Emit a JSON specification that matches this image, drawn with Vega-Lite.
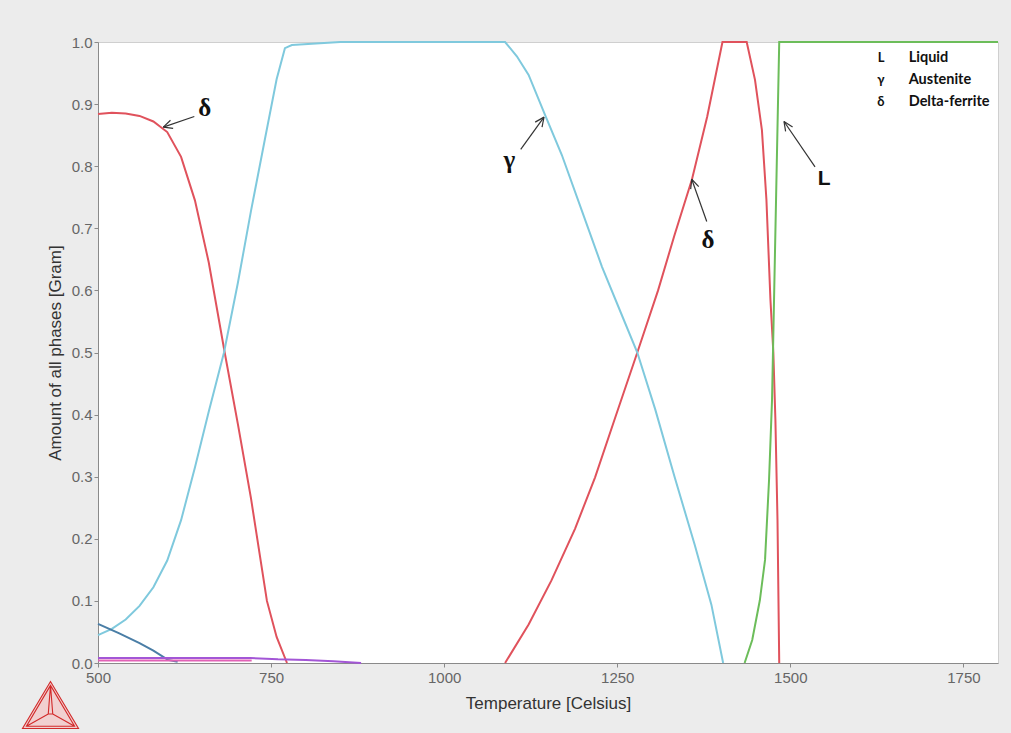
{
  "$schema": "https://vega.github.io/schema/vega-lite/v6.json",
  "width": 900,
  "height": 621,
  "autosize": {"type": "none"},
  "padding": {"left": 98, "top": 42, "right": 13, "bottom": 70},
  "background": "#ececec",
  "config": {
    "view": {"fill": "white", "stroke": "#cfcfcf"},
    "axis": {
      "grid": false,
      "domainColor": "#8a8a8a",
      "tickColor": "#8a8a8a",
      "tickSize": 4,
      "labelFont": "Liberation Sans",
      "labelFontSize": 15,
      "labelColor": "#666666",
      "titleFont": "Liberation Sans",
      "titleFontSize": 17,
      "titleFontWeight": "normal",
      "titleColor": "#333333"
    }
  },
  "datasets": {
    "curves": [
      {"phase": "delta", "seg": "d1", "T": 500, "v": 0.884},
      {"phase": "delta", "seg": "d1", "T": 520, "v": 0.886},
      {"phase": "delta", "seg": "d1", "T": 540, "v": 0.885},
      {"phase": "delta", "seg": "d1", "T": 560, "v": 0.881},
      {"phase": "delta", "seg": "d1", "T": 580, "v": 0.872},
      {"phase": "delta", "seg": "d1", "T": 600, "v": 0.855},
      {"phase": "delta", "seg": "d1", "T": 620, "v": 0.815},
      {"phase": "delta", "seg": "d1", "T": 640, "v": 0.745},
      {"phase": "delta", "seg": "d1", "T": 660, "v": 0.645},
      {"phase": "delta", "seg": "d1", "T": 683, "v": 0.5},
      {"phase": "delta", "seg": "d1", "T": 702, "v": 0.385},
      {"phase": "delta", "seg": "d1", "T": 721, "v": 0.265},
      {"phase": "delta", "seg": "d1", "T": 744, "v": 0.1},
      {"phase": "delta", "seg": "d1", "T": 758, "v": 0.042},
      {"phase": "delta", "seg": "d1", "T": 773, "v": 0.0},
      {"phase": "delta", "seg": "d2", "T": 1088, "v": 0.0},
      {"phase": "delta", "seg": "d2", "T": 1122, "v": 0.062},
      {"phase": "delta", "seg": "d2", "T": 1155, "v": 0.133},
      {"phase": "delta", "seg": "d2", "T": 1189, "v": 0.216},
      {"phase": "delta", "seg": "d2", "T": 1218, "v": 0.299},
      {"phase": "delta", "seg": "d2", "T": 1247, "v": 0.395},
      {"phase": "delta", "seg": "d2", "T": 1279, "v": 0.5},
      {"phase": "delta", "seg": "d2", "T": 1309, "v": 0.6},
      {"phase": "delta", "seg": "d2", "T": 1333, "v": 0.69},
      {"phase": "delta", "seg": "d2", "T": 1358, "v": 0.779},
      {"phase": "delta", "seg": "d2", "T": 1380, "v": 0.88},
      {"phase": "delta", "seg": "d2", "T": 1402, "v": 1.0},
      {"phase": "delta", "seg": "d2", "T": 1437, "v": 1.0},
      {"phase": "delta", "seg": "d2", "T": 1449, "v": 0.939},
      {"phase": "delta", "seg": "d2", "T": 1459, "v": 0.858},
      {"phase": "delta", "seg": "d2", "T": 1465.5, "v": 0.746},
      {"phase": "delta", "seg": "d2", "T": 1471.3, "v": 0.585},
      {"phase": "delta", "seg": "d2", "T": 1475.5, "v": 0.5},
      {"phase": "delta", "seg": "d2", "T": 1478.5, "v": 0.39},
      {"phase": "delta", "seg": "d2", "T": 1481.5, "v": 0.23},
      {"phase": "delta", "seg": "d2", "T": 1484, "v": 0.0},
      {"phase": "gamma", "seg": "g1", "T": 500, "v": 0.045},
      {"phase": "gamma", "seg": "g1", "T": 520, "v": 0.055},
      {"phase": "gamma", "seg": "g1", "T": 540, "v": 0.07},
      {"phase": "gamma", "seg": "g1", "T": 560, "v": 0.092},
      {"phase": "gamma", "seg": "g1", "T": 580, "v": 0.122},
      {"phase": "gamma", "seg": "g1", "T": 600, "v": 0.165},
      {"phase": "gamma", "seg": "g1", "T": 620, "v": 0.23},
      {"phase": "gamma", "seg": "g1", "T": 640, "v": 0.315},
      {"phase": "gamma", "seg": "g1", "T": 660, "v": 0.405},
      {"phase": "gamma", "seg": "g1", "T": 682, "v": 0.5},
      {"phase": "gamma", "seg": "g1", "T": 702, "v": 0.612},
      {"phase": "gamma", "seg": "g1", "T": 721, "v": 0.728},
      {"phase": "gamma", "seg": "g1", "T": 741, "v": 0.843},
      {"phase": "gamma", "seg": "g1", "T": 758, "v": 0.94},
      {"phase": "gamma", "seg": "g1", "T": 770, "v": 0.99},
      {"phase": "gamma", "seg": "g1", "T": 780, "v": 0.995},
      {"phase": "gamma", "seg": "g1", "T": 850, "v": 1.0},
      {"phase": "gamma", "seg": "g1", "T": 1088, "v": 1.0},
      {"phase": "gamma", "seg": "g1", "T": 1105, "v": 0.977},
      {"phase": "gamma", "seg": "g1", "T": 1122, "v": 0.947},
      {"phase": "gamma", "seg": "g1", "T": 1146, "v": 0.882},
      {"phase": "gamma", "seg": "g1", "T": 1170, "v": 0.818},
      {"phase": "gamma", "seg": "g1", "T": 1199, "v": 0.728},
      {"phase": "gamma", "seg": "g1", "T": 1228, "v": 0.638},
      {"phase": "gamma", "seg": "g1", "T": 1256, "v": 0.562},
      {"phase": "gamma", "seg": "g1", "T": 1279, "v": 0.5},
      {"phase": "gamma", "seg": "g1", "T": 1305, "v": 0.408},
      {"phase": "gamma", "seg": "g1", "T": 1333, "v": 0.299},
      {"phase": "gamma", "seg": "g1", "T": 1362, "v": 0.19},
      {"phase": "gamma", "seg": "g1", "T": 1386, "v": 0.094},
      {"phase": "gamma", "seg": "g1", "T": 1403, "v": 0.0},
      {"phase": "liquid", "seg": "l1", "T": 1434, "v": 0.0},
      {"phase": "liquid", "seg": "l1", "T": 1445, "v": 0.037},
      {"phase": "liquid", "seg": "l1", "T": 1456, "v": 0.101},
      {"phase": "liquid", "seg": "l1", "T": 1463.5, "v": 0.166},
      {"phase": "liquid", "seg": "l1", "T": 1469.3, "v": 0.295},
      {"phase": "liquid", "seg": "l1", "T": 1473.6, "v": 0.424},
      {"phase": "liquid", "seg": "l1", "T": 1476.5, "v": 0.585},
      {"phase": "liquid", "seg": "l1", "T": 1479.4, "v": 0.746},
      {"phase": "liquid", "seg": "l1", "T": 1482.3, "v": 0.907},
      {"phase": "liquid", "seg": "l1", "T": 1484, "v": 1.0},
      {"phase": "liquid", "seg": "l1", "T": 1800, "v": 1.0},
      {"phase": "steel", "seg": "s1", "T": 500, "v": 0.063},
      {"phase": "steel", "seg": "s1", "T": 530, "v": 0.048},
      {"phase": "steel", "seg": "s1", "T": 560, "v": 0.032},
      {"phase": "steel", "seg": "s1", "T": 580, "v": 0.02},
      {"phase": "steel", "seg": "s1", "T": 601, "v": 0.005},
      {"phase": "steel", "seg": "s1", "T": 615, "v": 0.002},
      {"phase": "purple", "seg": "p1", "T": 500, "v": 0.008},
      {"phase": "purple", "seg": "p1", "T": 720, "v": 0.008},
      {"phase": "purple", "seg": "p1", "T": 760, "v": 0.006},
      {"phase": "purple", "seg": "p1", "T": 800, "v": 0.005},
      {"phase": "purple", "seg": "p1", "T": 840, "v": 0.003},
      {"phase": "purple", "seg": "p1", "T": 880, "v": 0.0},
      {"phase": "pink", "seg": "k1", "T": 500, "v": 0.004},
      {"phase": "pink", "seg": "k1", "T": 722, "v": 0.004}
    ],
    "arrows": [
      {"T": 639.1, "v": 0.88, "T2": 594.3, "v2": 0.863},
      {"T": 594.3, "v": 0.863, "T2": 608.5, "v2": 0.861},
      {"T": 594.3, "v": 0.863, "T2": 604.7, "v2": 0.874},
      {"T": 1110.6, "v": 0.827, "T2": 1144.2, "v2": 0.879},
      {"T": 1144.2, "v": 0.879, "T2": 1141.4, "v2": 0.863},
      {"T": 1144.2, "v": 0.879, "T2": 1131.5, "v2": 0.871},
      {"T": 1379.3, "v": 0.711, "T2": 1357.6, "v2": 0.779},
      {"T": 1357.6, "v": 0.779, "T2": 1367.7, "v2": 0.767},
      {"T": 1357.6, "v": 0.779, "T2": 1356.1, "v2": 0.763},
      {"T": 1535.7, "v": 0.799, "T2": 1490.9, "v2": 0.872},
      {"T": 1490.9, "v": 0.872, "T2": 1503.3, "v2": 0.863},
      {"T": 1490.9, "v": 0.872, "T2": 1493.2, "v2": 0.856}
    ],
    "greek": [
      {"T": 654, "v": 0.893, "label": "δ"},
      {"T": 1094, "v": 0.81, "label": "γ"},
      {"T": 1381, "v": 0.681, "label": "δ"}
    ],
    "latin": [
      {"T": 1549, "v": 0.78, "label": "L"}
    ],
    "legsym": [
      {"T": 1631, "v": 0.974, "label": "L"},
      {"T": 1631, "v": 0.939, "label": "γ"},
      {"T": 1631, "v": 0.904, "label": "δ"}
    ],
    "legname": [
      {"T": 1671, "v": 0.974, "label": "Liquid"},
      {"T": 1671, "v": 0.939, "label": "Austenite"},
      {"T": 1671, "v": 0.904, "label": "Delta-ferrite"}
    ],
    "logo": [
      {"T": 431.4, "v": -0.0676}
    ]
  },
  "encoding": {
    "x": {
      "field": "T",
      "type": "quantitative",
      "scale": {"domain": [500, 1800], "nice": false, "zero": false},
      "axis": {
        "values": [500, 750, 1000, 1250, 1500, 1750],
        "format": "d",
        "labelFlush": false,
        "title": "Temperature [Celsius]",
        "labelPadding": 3,
        "titlePadding": 10
      }
    },
    "y": {
      "field": "v",
      "type": "quantitative",
      "scale": {"domain": [0, 1], "nice": false, "zero": false},
      "axis": {
        "values": [0, 0.1, 0.2, 0.3, 0.4, 0.5, 0.6, 0.7, 0.8, 0.9, 1.0],
        "format": ".1f",
        "labelFlush": false,
        "title": "Amount of all phases [Gram]",
        "labelPadding": 2,
        "titlePadding": 7
      }
    }
  },
  "layer": [
    {
      "data": {"name": "curves"},
      "mark": {"type": "line", "strokeWidth": 2},
      "encoding": {
        "color": {
          "field": "phase",
          "type": "nominal",
          "scale": {
            "domain": ["delta", "gamma", "liquid", "steel", "purple", "pink"],
            "range": ["#e0525c", "#7fc9dd", "#6cbd5a", "#4a7ea6", "#a356d6", "#e262b6"]
          },
          "legend": null
        },
        "detail": {"field": "seg", "type": "nominal"}
      }
    },
    {
      "data": {"name": "arrows"},
      "mark": {"type": "rule", "color": "#333333", "strokeWidth": 1.2},
      "encoding": {
        "x2": {"field": "T2"},
        "y2": {"field": "v2"}
      }
    },
    {
      "data": {"name": "greek"},
      "mark": {"type": "text", "font": "Liberation Serif", "fontWeight": "bold", "fontSize": 25, "color": "#111111", "align": "center", "baseline": "middle"},
      "encoding": {"text": {"field": "label"}}
    },
    {
      "data": {"name": "latin"},
      "mark": {"type": "text", "font": "Liberation Sans", "fontWeight": "bold", "fontSize": 21, "color": "#111111", "align": "center", "baseline": "middle"},
      "encoding": {"text": {"field": "label"}}
    },
    {
      "data": {"name": "legsym"},
      "mark": {"type": "text", "font": "Lato", "fontWeight": "bold", "fontSize": 13, "color": "#111111", "align": "center", "baseline": "middle"},
      "encoding": {"text": {"field": "label"}}
    },
    {
      "data": {"name": "legname"},
      "mark": {"type": "text", "font": "Lato", "fontWeight": "bold", "fontSize": 14.5, "color": "#111111", "align": "left", "baseline": "middle"},
      "encoding": {"text": {"field": "label"}}
    },
    {
      "data": {"name": "logo"},
      "mark": {
        "type": "point",
        "shape": "M0,-0.84L-1,0.84L1,0.84Z M0,-0.7L-0.86,0.76L0.86,0.76Z M0,-0.7L-0.08,0.32L0.08,0.32Z M-0.86,0.76L-0.08,0.32 M0.86,0.76L0.08,0.32",
        "size": 3136,
        "filled": true,
        "fill": "#f3c4c4",
        "fillOpacity": 0.7,
        "stroke": "#d22a2a",
        "strokeWidth": 1.1,
        "opacity": 1
      }
    }
  ]
}
